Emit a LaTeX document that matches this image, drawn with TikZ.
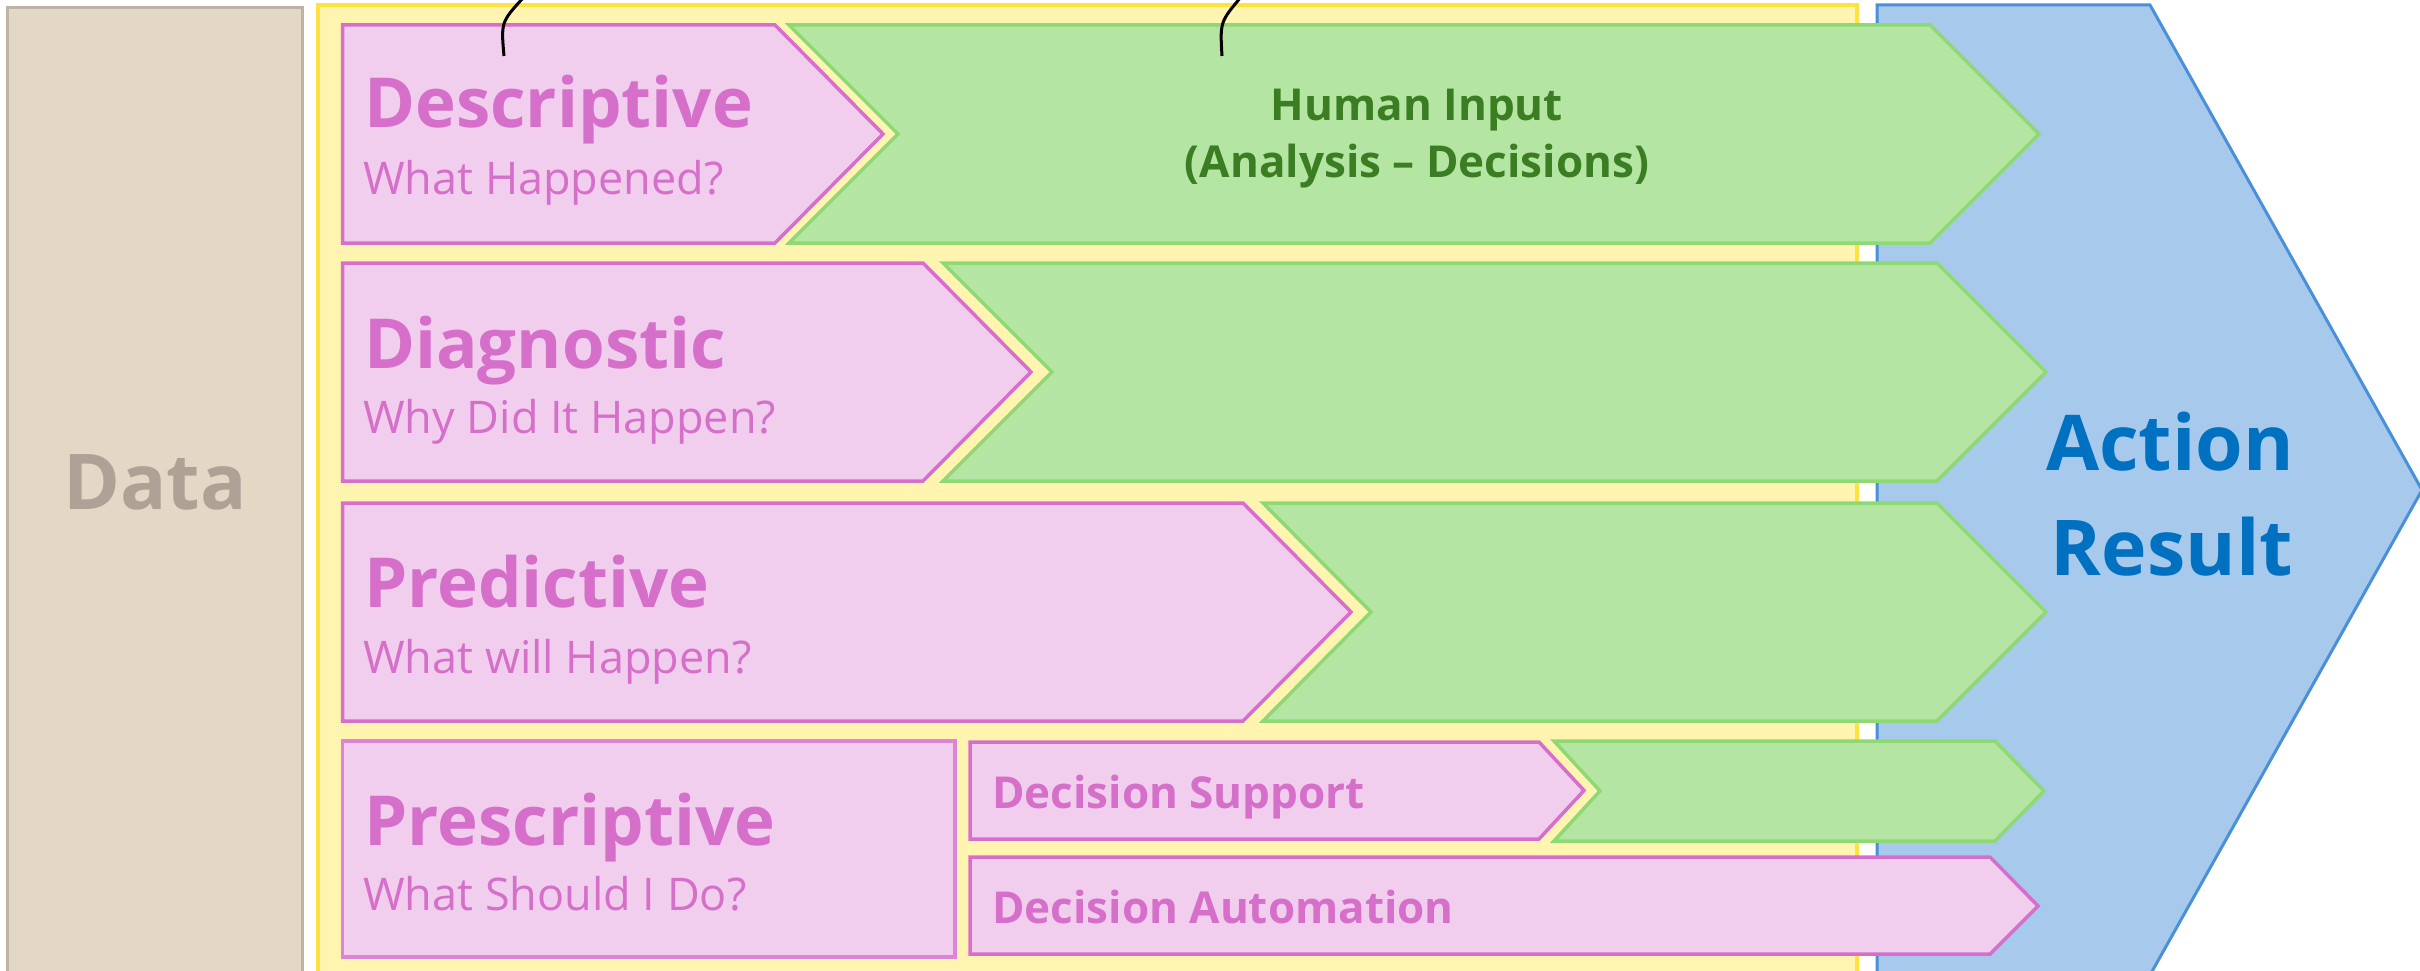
\documentclass[tikz,border=0pt]{standalone}
\usepackage{fontspec}
\setmainfont{Open Sans}
\newfontfamily\hfont{Open Sans}
\definecolor{pinkfill}{HTML}{F1CEEE}
\definecolor{pinkline}{HTML}{D86ECC}
\definecolor{pinktext}{HTML}{D56FC9}
\definecolor{greenfill}{HTML}{B5E5A2}
\definecolor{greenline}{HTML}{8ED973}
\definecolor{greentext}{HTML}{3B7D23}
\definecolor{yelfill}{HTML}{FFF5B1}
\definecolor{yelline}{HTML}{FFE23F}
\definecolor{bluefill}{HTML}{A7CAEC}
\definecolor{blueline}{HTML}{4A90D9}
\definecolor{bluetext}{HTML}{0070C0}
\definecolor{datafill}{HTML}{E3D8C6}
\definecolor{dataline}{HTML}{BFB3A3}
\definecolor{datatext}{HTML}{ADA295}
\tikzset{
  pinkshape/.style={fill=pinkfill, draw=pinkline, line width=3.5pt},
  greenshape/.style={fill=greenfill, draw=greenline, line width=3.5pt},
  title/.style={anchor=base west, inner sep=0pt, text=pinktext, font=\hfont\bfseries\fontsize{69}{74}\selectfont},
  subtitle/.style={anchor=base west, inner sep=0pt, text=pinktext, font=\hfont\fontsize{45}{50}\selectfont},
  smalltitle/.style={anchor=base west, inner sep=0pt, text=pinktext, font=\hfont\bfseries\fontsize{44}{48}\selectfont},
  bigtext/.style={anchor=base, inner sep=0pt, font=\hfont\bfseries\fontsize{77}{80}\selectfont},
  greentitle/.style={anchor=base, inner sep=0pt, text=greentext, font=\hfont\bfseries\fontsize{44}{48}\selectfont},
  mark line/.style={draw=black, line width=3pt}
}
\begin{document}
\begin{tikzpicture}[x=1pt,y=-1pt]
\useasboundingbox (0,0) rectangle (2420,971);
% Data column
\path[fill=datafill, draw=dataline, line width=3pt] (7.7,7.7) rectangle (302,990);
\node[bigtext, text=datatext] (data) at (155,509) {Data};
% yellow panel
\path[fill=yelfill, draw=yelline, line width=4pt] (317.6,5) rectangle (1857,990);
% blue chevron
\path[fill=bluefill, draw=blueline, line width=3pt] (1877,5) -- (2150,5) -- (2422,490) -- (2150,975) -- (1877,975) -- cycle;
\node[bigtext, text=bluetext] (action) at (2170,470) {Action};
\node[bigtext, text=bluetext] (result) at (2172,575) {Result};
% row 1
\path[greenshape] (789,25) -- (1930,25) -- (2039,134) -- (1930,243) -- (789,243) -- (898,134) -- cycle;
\path[pinkshape] (342.5,25) -- (775,25) -- (883,134) -- (775,243) -- (342.5,243) -- cycle;
\node[title] (desc) at (364,128) {Descriptive};
\node[subtitle] (descq) at (363,194) {What Happened?};
\node[greentitle] (human) at (1417,121) {Human Input};
\node[greentitle] (analysis) at (1417,178) {(Analysis – Decisions)};
% row 2
\path[greenshape] (943,263) -- (1937,263) -- (2046,372) -- (1937,481) -- (943,481) -- (1052,372) -- cycle;
\path[pinkshape] (342.5,263) -- (923,263) -- (1031,372) -- (923,481) -- (342.5,481) -- cycle;
\node[title] (diag) at (364,368) {Diagnostic};
\node[subtitle] (diagq) at (363,433) {Why Did It Happen?};
% row 3
\path[greenshape] (1263,503) -- (1937,503) -- (2046,612) -- (1937,721) -- (1263,721) -- (1371,612) -- cycle;
\path[pinkshape] (342.5,503) -- (1243,503) -- (1351,612) -- (1243,721) -- (342.5,721) -- cycle;
\node[title] (pred) at (364,607) {Predictive};
\node[subtitle] (predq) at (363,673) {What will Happen?};
% row 4
\path[pinkshape, draw=pinkline!85!white] (342.5,741) rectangle (955,957);
\node[title] (presc) at (364,845) {Prescriptive};
\node[subtitle] (prescq) at (363,910) {What Should I Do?};
\path[greenshape] (1554,741) -- (1995,741) -- (2044,791) -- (1995,841) -- (1554,841) -- (1600,791) -- cycle;
\path[pinkshape] (970,742) -- (1539,742) -- (1584,790.5) -- (1539,839) -- (970,839) -- cycle;
\node[smalltitle] (support) at (992,808) {Decision Support};
\path[pinkshape] (970,857) -- (1990,857) -- (2038,906) -- (1990,954) -- (970,954) -- cycle;
\node[smalltitle] (auto) at (992,923) {Decision Automation};
% stray marks at top
\draw[mark line] (504,56) .. controls (501,22) .. (524,-3);
\draw[mark line] (1222,56) .. controls (1220,22) .. (1241,-3);
\end{tikzpicture}
\end{document}
